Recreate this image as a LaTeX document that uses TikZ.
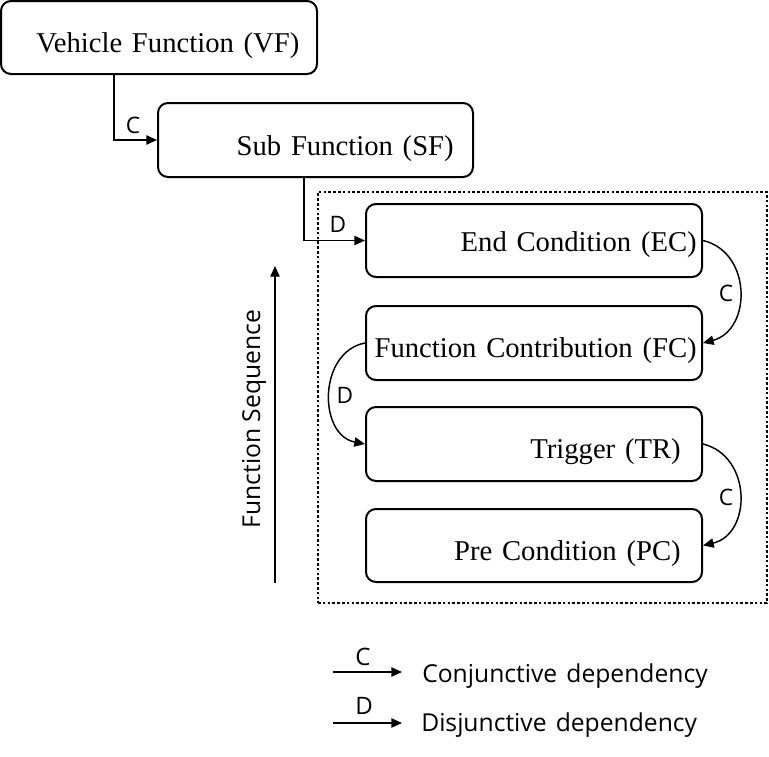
\documentclass[tikz,border=0pt]{standalone}
\usepackage{fontspec}
\setmainfont{Liberation Serif}
\newfontfamily\lblfont{Open Sans}
\usetikzlibrary{arrows.meta}
\newcommand\myboxfont{\fontsize{21.5}{26}\selectfont\spaceskip=0.34em\relax}
\newcommand\mylegfont{\lblfont\fontsize{18.5}{22}\selectfont\spaceskip=0.37em\relax}
\begin{document}
\begin{tikzpicture}[x=0.75pt,y=-0.75pt,
  box/.style={draw,line width=1.5pt,rounded corners=7.5pt,minimum width=252pt,inner sep=0pt},
  boxtext/.style={font=\myboxfont,inner sep=0pt},
  conn/.style={line width=1.1pt,-{Triangle[length=8pt,width=7pt]}},
  dlabel/.style={font=\lblfont\fontsize{17}{20}\selectfont,inner sep=0pt},
  leglabel/.style={font=\lblfont\fontsize{18}{21}\selectfont,inner sep=0pt},
  legtext/.style={font=\mylegfont,inner sep=0pt,anchor=base west},
]
\useasboundingbox (0,0) rectangle (769,757);
% group frame
\node[draw,line width=2pt,dash pattern=on 2pt off 1.6pt,minimum width=336.75pt,minimum height=308.25pt,inner sep=0pt] (grp) at (542.5,397.5) {};
% boxes
\node[box,minimum width=237pt,minimum height=54.75pt] (VF) at (159,37.5) {};
\node[box,minimum width=236.25pt,minimum height=55.5pt] (SF) at (315.5,140) {};
\node[box,minimum height=54.75pt] (EC) at (534,240.5) {};
\node[box,minimum height=55.5pt] (FC) at (534,343) {};
\node[box,minimum height=55.5pt] (TR) at (534,444) {};
\node[box,minimum height=54.75pt] (PC) at (534,545.5) {};
% box texts
\node[boxtext,anchor=base west] (VFt) at (36,52) {Vehicle Function (VF)};
\node[boxtext,anchor=base east] (SFt) at (454,155) {Sub Function (SF)};
\node[boxtext,anchor=base east] (ECt) at (697,251) {End Condition (EC)};
\node[boxtext,anchor=base east] (FCt) at (697,357) {Function Contribution (FC)};
\node[boxtext,anchor=base east] (TRt) at (681,458) {Trigger (TR)};
\node[boxtext,anchor=base east] (PCt) at (681,560) {Pre Condition (PC)};
% connectors
\coordinate (vfout) at (114,0);
\coordinate (sfout) at (304,0);
\draw[conn] (VF.south -| vfout) |- (SF.west);
\node[dlabel] (c1) at (133,125) {C};
\draw[conn] (SF.south -| sfout) |- (EC.west);
\node[dlabel] (d1) at (338,224) {D};
\draw[conn] (EC.east) .. controls (752,252) and (752,330) .. (FC.east);
\node[dlabel] (c2) at (726,293) {C};
\draw[conn] (FC.west) .. controls (318,352) and (318,435) .. (TR.west);
\node[dlabel] (d2) at (345,395) {D};
\draw[conn] (TR.east) .. controls (752,456) and (752,534) .. (PC.east);
\node[dlabel] (c3) at (726,497) {C};
% function sequence
\coordinate (fsb) at (275,583);
\coordinate (fst) at (275,266);
\draw[line width=1.1pt,-{Triangle[length=8pt,width=7pt]}] (fsb) -- (fst);
\node[font=\lblfont\fontsize{18.5}{22}\selectfont,inner sep=0pt,rotate=90,anchor=base] (fs) at (260,419) {Function Sequence};
% legend
\coordinate (l1a) at (333,672);
\coordinate (l1b) at (402,672);
\coordinate (l2a) at (333,723);
\coordinate (l2b) at (402,723);
\draw[conn] (l1a) -- (l1b);
\draw[conn] (l2a) -- (l2b);
\node[leglabel,anchor=base] (lc) at (363,665) {C};
\node[leglabel,anchor=base] (ld) at (364,714) {D};
\node[legtext] (lct) at (422,682) {Conjunctive dependency};
\node[legtext] (ldt) at (421,731) {Disjunctive dependency};
\end{tikzpicture}
\end{document}
